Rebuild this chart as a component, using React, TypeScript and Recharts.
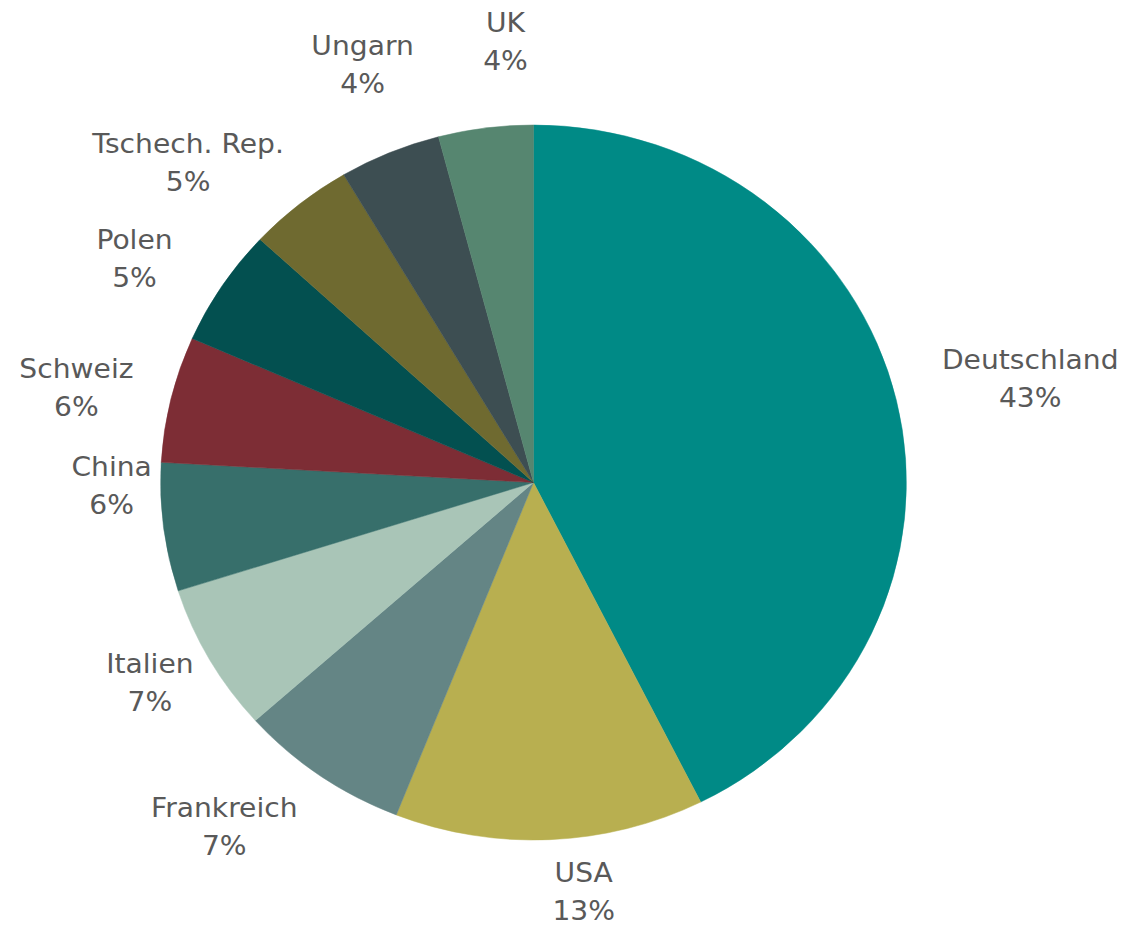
import React from 'react';
import { PieChart, Pie, Cell } from 'recharts';

const countries = ['Deutschland', 'USA', 'Frankreich', 'Italien', 'China', 'Schweiz', 'Polen', 'Tschech. Rep.', 'Ungarn', 'UK'];
const shares = [42.6, 13.4, 7.4, 6.7, 5.8, 5.7, 5.3, 4.6, 4.4, 4.1];
const sliceColors = ['#008A86', '#B8AF50', '#648585', '#A9C5B7', '#376F6B', '#7D2D35', '#035050', '#6F6A30', '#3D4E52', '#568670'];

// label placement tweaks (angle shift in degrees, extra distance beyond the rim)
const labelAngleShift = [1.0, -4.2, 5.9, 1.2, 6.8, -1.2, -2.9, -7.1, 1.3, 3.9];
const labelDistance = [130, 54, 96, 61, 47, 91, 86, 103, 92, 85];

const data = countries.map((name, i) => ({ name, value: shares[i] }));

const FONT = '"DejaVu Sans", Verdana, sans-serif';

const renderLabel = (props: any) => {
  const { cx, cy, midAngle, outerRadius, index, percent, name } = props;
  const theta = ((90 - midAngle + labelAngleShift[index]) * Math.PI) / 180;
  const d = outerRadius + labelDistance[index];
  const x = cx + d * Math.sin(theta);
  const y = cy - d * Math.cos(theta);
  return (
    <text x={x} y={y} textAnchor="middle" fill="#595959" fontSize={27} fontFamily={FONT}>
      <tspan x={x} y={y - 9}>{name}</tspan>
      <tspan x={x} y={y + 29}>{Math.round(percent * 100) + '%'}</tspan>
    </text>
  );
};

export default function App() {
  return (
    <div
      style={{
        position: 'fixed',
        left: 0,
        top: 0,
        width: 1080,
        height: 927,
        transform: 'scaleX(1.043)',
        transformOrigin: '0 0',
        background: '#fff',
      }}
    >
      <PieChart width={1080} height={927} margin={{ top: 0, right: 0, bottom: 0, left: 0 }}>
        <Pie
          data={data}
          dataKey="value"
          nameKey="name"
          cx={511.5}
          cy={482.5}
          outerRadius={357.5}
          startAngle={90}
          endAngle={-270}
          stroke="none"
          label={renderLabel}
          labelLine={false}
          isAnimationActive={false}
        >
          {data.map((d, i) => (
            <Cell key={d.name} fill={sliceColors[i]} stroke={sliceColors[i]} strokeWidth={0.5} />
          ))}
        </Pie>
      </PieChart>
    </div>
  );
}
